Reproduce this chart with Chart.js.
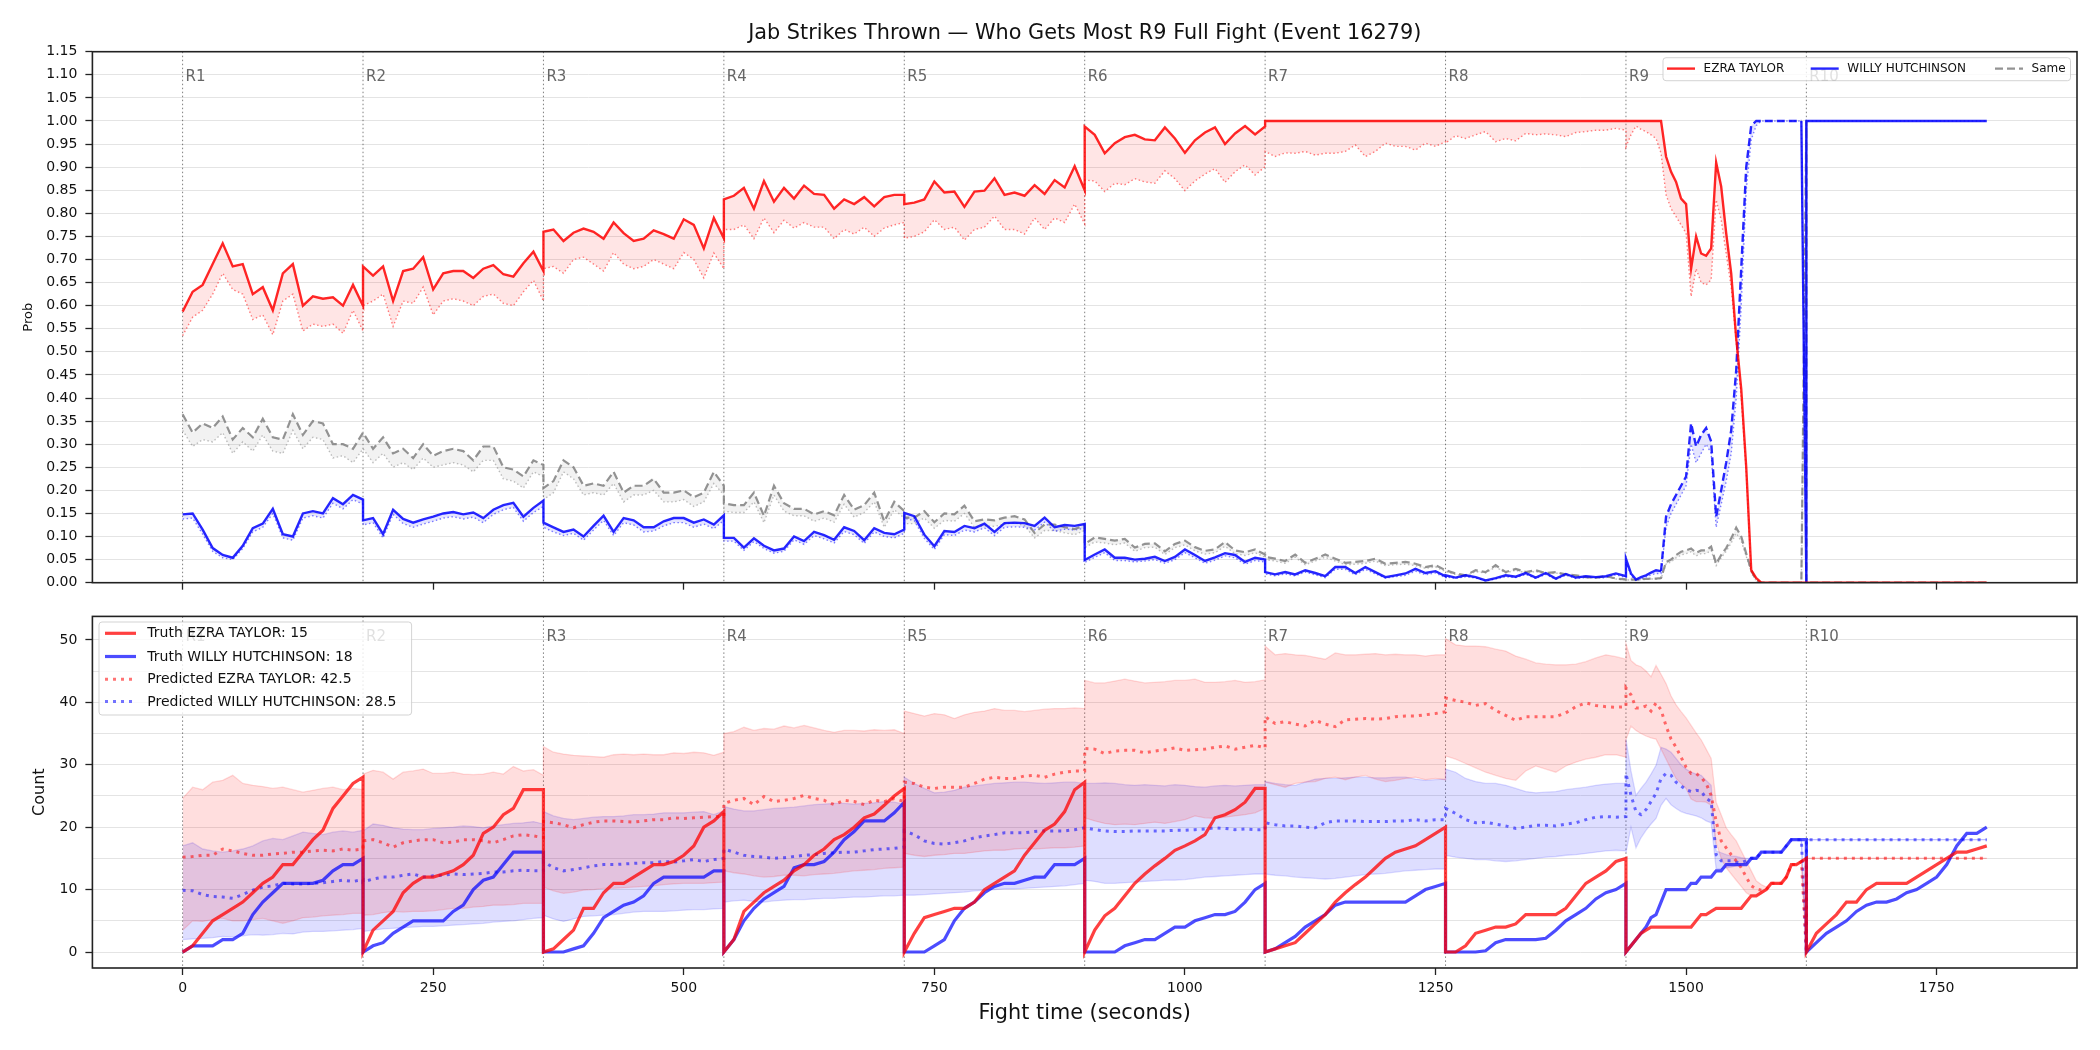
<!DOCTYPE html>
<html>
<head>
<meta charset="utf-8">
<script src="https://cdn.jsdelivr.net/npm/chart.js@4.4.1/dist/chart.umd.min.js"></script>
<style>
  html, body { margin: 0; padding: 0; background: #fff; }
  #wrap { position: relative; width: 2100px; height: 1050px; }
  #topChart { position: absolute; left: 0; top: 0; }
  #bottomChart { position: absolute; left: 0; top: 600px; }
</style>
</head>
<body>
<div id="wrap">
  <canvas id="topChart" width="2100" height="600"></canvas>
  <canvas id="bottomChart" width="2100" height="450"></canvas>
</div>
<script>
// rounds and sampling grid (R9 is sampled every 5 s, the rest every 10 s)
const roundStarts = [0, 180, 360, 540, 720, 900, 1080, 1260, 1440, 1620]
const roundLabels = ["R1", "R2", "R3", "R4", "R5", "R6", "R7", "R8", "R9", "R10"]
const coarseOffsets = [0, 10, 20, 30, 40, 50, 60, 70, 80, 90, 100, 110, 120, 130, 140, 150, 160, 170, 180]
const fineOffsets = [0, 5, 10, 15, 20, 25, 30, 35, 40, 45, 50, 55, 60, 65, 70, 75, 80, 85, 90, 95, 100, 105, 110, 115, 120, 125, 130, 135, 140, 145, 150, 155, 160, 165, 170, 175, 180]
const fineRound = 8
const xTicks = [0, 250, 500, 750, 1000, 1250, 1500, 1750]

// top panel: win probability per fighter (solid) and its lower line (dotted)
const ezraProb = [
  [.587,.63,.645,.69,.735,.685,.69,.625,.64,.59,.67,.69,.60,.62,.615,.618,.60,.645,.60],
  [.685,.665,.685,.61,.675,.68,.705,.635,.67,.675,.675,.66,.68,.688,.668,.663,.692,.717,.675],
  [.76,.765,.74,.758,.767,.76,.745,.78,.757,.74,.745,.763,.755,.745,.787,.775,.724,.79,.746],
  [.83,.838,.855,.81,.87,.825,.855,.832,.86,.842,.84,.81,.83,.82,.835,.815,.835,.84,.84],
  [.82,.823,.83,.869,.845,.847,.814,.847,.849,.876,.84,.845,.838,.861,.842,.872,.856,.902,.85],
  [.988,.97,.93,.952,.965,.97,.96,.958,.986,.962,.931,.958,.975,.986,.95,.973,.989,.971,.988],
  [1,1,1,1,1,1,1,1,1,1,1,1,1,1,1,1,1,1,1],
  [1,1,1,1,1,1,1,1,1,1,1,1,1,1,1,1,1,1,1],
  [1,1,1,1,1,1,1,1,.923,.89,.868,.832,.82,.68,.75,.713,.708,.724,.91,.858,.757,.67,.53,.42,.25,.027,.01,0,0,0,0,0,0,0,0,0,0],
  [0,0,0,0,0,0,0,0,0,0,0,0,0,0,0,0,0,0,0],
]
const ezraProbLow = [
  [.535,.575,.59,.625,.67,.635,.625,.57,.58,.537,.61,.625,.545,.56,.555,.56,.54,.59,.545],
  [.60,.61,.625,.555,.61,.605,.64,.58,.61,.615,.61,.60,.62,.625,.605,.60,.63,.655,.61],
  [.68,.685,.67,.70,.705,.69,.675,.715,.69,.68,.685,.70,.69,.68,.715,.70,.66,.714,.68],
  [.765,.765,.775,.745,.79,.758,.785,.768,.78,.77,.77,.745,.765,.755,.77,.75,.768,.775,.78],
  [.746,.75,.76,.786,.765,.77,.742,.765,.77,.794,.765,.765,.755,.79,.765,.79,.78,.82,.777],
  [.872,.87,.847,.865,.862,.875,.868,.865,.892,.875,.849,.87,.885,.897,.867,.89,.905,.883,.901],
  [.934,.923,.931,.93,.934,.926,.93,.93,.934,.948,.923,.934,.952,.945,.945,.937,.952,.945,.955],
  [.952,.968,.962,.97,.977,.955,.962,.957,.973,.97,.972,.97,.966,.975,.977,.98,.98,.984,.98],
  [.944,.97,.989,.982,.977,.97,.962,.93,.84,.81,.793,.775,.757,.62,.68,.65,.645,.656,.829,.786,.713,.64,.52,.40,.24,.02,.008,0,0,0,0,0,0,0,0,0,0],
  [0,0,0,0,0,0,0,0,0,0,0,0,0,0,0,0,0,0,0],
]
const willyProb = [
  [.148,.15,.115,.075,.06,.054,.08,.118,.128,.16,.105,.10,.15,.155,.15,.183,.17,.19,.18],
  [.135,.14,.105,.158,.138,.13,.137,.143,.15,.153,.148,.152,.14,.158,.168,.173,.143,.162,.178],
  [.13,.12,.11,.115,.10,.123,.145,.11,.14,.135,.12,.12,.133,.14,.14,.13,.137,.126,.146],
  [.097,.097,.076,.096,.08,.07,.074,.10,.09,.11,.103,.093,.12,.112,.092,.118,.108,.105,.115],
  [.151,.144,.104,.079,.112,.11,.123,.118,.128,.11,.129,.13,.129,.123,.141,.12,.125,.123,.127],
  [.049,.061,.072,.054,.054,.05,.052,.056,.047,.056,.072,.06,.047,.055,.064,.06,.045,.054,.05],
  [.023,.018,.023,.018,.027,.021,.014,.034,.034,.021,.034,.023,.012,.016,.02,.03,.021,.025,.014],
  [.016,.011,.016,.012,.005,.01,.016,.013,.021,.011,.021,.009,.019,.011,.014,.012,.014,.02,.014],
  [.052,.02,.007,.012,.016,.022,.027,.025,.143,.17,.19,.21,.23,.345,.295,.32,.335,.306,.143,.20,.26,.33,.46,.68,.90,.99,1,1,1,1,1,1,1,1,1,1,0],
  [1,1,1,1,1,1,1,1,1,1,1,1,1,1,1,1,1,1,1],
]
const willyProbLow = [
  [.138,.14,.105,.068,.054,.05,.074,.11,.12,.15,.097,.092,.14,.145,.14,.172,.16,.18,.17],
  [.125,.13,.097,.148,.128,.12,.127,.133,.14,.143,.138,.142,.13,.148,.158,.163,.133,.152,.165],
  [.12,.11,.102,.107,.092,.114,.135,.102,.13,.125,.11,.112,.123,.13,.13,.12,.127,.117,.135],
  [.09,.09,.07,.089,.074,.064,.068,.093,.083,.102,.095,.086,.111,.104,.085,.11,.10,.097,.107],
  [.14,.134,.096,.072,.104,.102,.114,.11,.119,.102,.12,.121,.12,.114,.131,.111,.116,.114,.118],
  [.044,.055,.065,.048,.048,.045,.047,.05,.042,.05,.065,.054,.042,.049,.058,.054,.04,.048,.045],
  [.019,.015,.019,.015,.023,.017,.011,.029,.029,.017,.029,.019,.01,.013,.016,.025,.017,.021,.011],
  [.013,.009,.013,.01,.004,.008,.013,.011,.018,.009,.018,.007,.016,.009,.011,.01,.011,.017,.011],
  [.045,.015,.004,.008,.012,.017,.02,.02,.12,.15,.17,.19,.21,.30,.26,.28,.30,.28,.12,.17,.22,.28,.40,.60,.85,.96,.99,1,1,1,1,1,1,1,1,1,0],
  [1,1,1,1,1,1,1,1,1,1,1,1,1,1,1,1,1,1,1],
]
const sameProb = [
  [.365,.325,.345,.335,.36,.31,.335,.315,.355,.315,.31,.365,.32,.35,.345,.30,.30,.29,.325],
  [.325,.29,.315,.28,.29,.27,.30,.275,.285,.29,.285,.265,.295,.295,.25,.245,.23,.265,.255],
  [.205,.22,.265,.25,.21,.215,.21,.24,.195,.21,.21,.225,.195,.195,.20,.185,.195,.24,.21],
  [.172,.168,.168,.195,.145,.21,.172,.16,.16,.148,.155,.146,.19,.158,.168,.195,.133,.175,.155],
  [.141,.141,.155,.131,.15,.148,.167,.133,.137,.135,.141,.144,.137,.108,.126,.126,.12,.116,.125],
  [.084,.098,.095,.091,.095,.076,.084,.085,.068,.084,.091,.077,.069,.072,.088,.07,.066,.072,.061],
  [.056,.052,.047,.061,.043,.052,.061,.052,.043,.045,.047,.052,.041,.043,.045,.041,.034,.038,.027],
  [.027,.02,.016,.027,.023,.038,.023,.03,.023,.027,.021,.023,.018,.016,.012,.011,.014,.009,.007],
  [.007,.007,.006,.008,.008,.009,.009,.01,.045,.05,.06,.067,.07,.074,.065,.07,.07,.078,.041,.06,.075,.096,.119,.10,.063,.027,.005,0,0,0,0,0,0,0,0,0,1],
  [0,0,0,0,0,0,0,0,0,0,0,0,0,0,0,0,0,0,0],
]
const sameProbLow = [
  [.33,.295,.31,.305,.325,.28,.305,.285,.32,.285,.28,.33,.29,.315,.31,.27,.275,.26,.29],
  [.29,.26,.28,.25,.26,.245,.27,.25,.255,.26,.255,.24,.265,.265,.225,.22,.205,.24,.23],
  [.18,.195,.24,.225,.19,.195,.19,.215,.175,.19,.19,.20,.175,.175,.18,.165,.175,.215,.19],
  [.155,.152,.152,.175,.13,.19,.155,.145,.145,.133,.14,.131,.17,.142,.152,.175,.12,.158,.14],
  [.128,.128,.14,.118,.135,.133,.15,.12,.123,.122,.127,.13,.123,.097,.113,.113,.108,.104,.113],
  [.076,.088,.086,.082,.086,.068,.076,.077,.061,.076,.082,.069,.062,.065,.079,.063,.059,.065,.055],
  [.05,.047,.042,.055,.039,.047,.055,.047,.039,.04,.042,.047,.037,.039,.04,.037,.031,.034,.024],
  [.024,.018,.014,.024,.021,.034,.021,.027,.021,.024,.019,.021,.016,.014,.011,.01,.013,.008,.006],
  [.006,.006,.005,.007,.007,.008,.008,.009,.04,.045,.054,.06,.063,.067,.058,.063,.063,.07,.037,.054,.068,.086,.107,.09,.057,.024,.004,0,0,0,0,0,0,0,0,0,.95],
  [0,0,0,0,0,0,0,0,0,0,0,0,0,0,0,0,0,0,0],
]

// bottom panel: cumulative counts per round
const ezraTruth = [
  [0,1,3,5,6,7,8,9.5,11,12,14,14,16,18,19.5,23,25,27,28],
  [0,3.5,5,6.5,9.5,11,12,12,12.5,13,14,15.5,19,20,22,23,26,26,26],
  [0,0.5,2,3.5,7,7,9.5,11,11,12,13,14,14,14.5,15.5,17,20,21,22.5],
  [0,2,6.5,8,9.5,10.5,11.5,13,14,15.5,16.5,18,18.8,20,21.5,22.1,23.5,25,26.2],
  [0,3,5.5,6,6.5,7,7,8,10,11,12,13,15.5,17.5,19.5,20.5,22.5,26,27.2],
  [0,3.5,5.8,7,9,11,12.5,13.8,15,16.3,17,17.8,18.8,21.5,22,22.8,24,26.2,26.2],
  [0,0.5,1,1.5,3,4.5,6,8,9.5,10.8,12,13.5,15,16,16.5,17,18,19,20],
  [0,0,1,3,3.5,4,4,4.5,6,6,6,6,7,9,11,12,13,14.5,15],
  [0,1,2,3,3.5,4,4,4,4,4,4,4,4,4,5,6,6,6.5,7,7,7,7,7,7,8,9,9,9.5,10,11,11,11,12,14,14,14.5,15],
  [0,3,4.5,6,8,8,10,11,11,11,11,12,13,14,15,16,16,16.5,17],
]
const willyTruth = [
  [0,1,1,1,2,2,3,6,8,9.5,11,11,11,11,11.5,13,14,14,15],
  [0,1,1.5,3,4,5,5,5,5,6.5,7.5,10,11.5,12,14,16,16,16,16],
  [0,0,0,0.5,1,3,5.5,6.5,7.5,8,9,11,12,12,12,12,12,13,13],
  [0,2,5,7,8.5,9.5,10.5,13.5,14,14,14.5,16,18,19.3,21,21,21,22.3,24],
  [0,0,0,1,2,5,7,8,9.5,10.5,11,11,11.5,12,12,14,14,14,15],
  [0,0,0,0,1,1.5,2,2,3,4,4,5,5.5,6,6,6.5,8,10,11],
  [0,0.5,1.5,2.5,4,5,6,7.5,8,8,8,8,8,8,8,9,10,10.5,11],
  [0,0,0,0,0.2,1.5,2,2,2,2,2.2,3.5,5,6,7,8.5,9.5,10,11],
  [0,1,2,3,4,5.5,6,8,10,10,10,10,10,11,11,12,12,12,13,13,14,14,14,14,14,15,15,16,16,16,16,16,17,18,18,18,18],
  [0,1.5,3,4,5,6.5,7.5,8,8,8.5,9.5,10,11,12,14,17,19,19,20],
]
const ezraPred = [
  [15.2,15.3,15.5,15.5,16.5,16.2,15.8,15.5,15.5,15.7,15.8,16,16,16.2,16.3,16.2,16.5,16.3,16.5],
  [17.8,18,17.5,16.8,17.5,17.8,18,18,17.5,17.6,18,18,17.8,17.5,18,18.6,18.8,18.6,18.3],
  [20.9,20.7,20.4,19.9,20.4,20.8,21,21,20.9,20.8,21,21.2,21.2,21.5,21.4,21.5,21.6,21.7,21.8],
  [23.8,24.3,24.6,23.6,24.9,24.1,24.3,24.6,25.1,24.6,24.3,23.6,24.3,24.1,23.6,24.3,24.1,24.6,24.1],
  [27.2,27,26.4,26.2,26.4,26.4,26.4,27,27.7,28,27.8,27.8,28.2,28.3,28,28.5,28.8,29,29],
  [32.6,32.5,31.8,32.2,32.3,32.3,31.9,32.2,32.4,32.7,32.3,32.4,32.5,32.8,33,32.5,32.8,33.1,32.7],
  [37.7,36.6,36.9,36.5,36.2,37.1,36.5,36.1,37.2,37.3,37.4,37.3,37.4,37.7,37.8,37.8,38,38.2,38.5],
  [40.7,40.3,40,39.5,39.8,38.7,37.9,37.1,37.7,37.7,37.7,37.7,38.3,39.3,39.9,39.5,39.3,39.2,39.3],
  [42.3,41.2,39.1,39.1,39.4,38.6,39.9,38.8,36.2,34.1,32.8,31.2,29.6,28.6,28.6,28,27,25.1,20.9,17.8,16.7,15.6,14.6,13.5,12,10.6,10.1,9.9,10,11,11,11,12,14,14,14.5,0],
  [15,15,15,15,15,15,15,15,15,15,15,15,15,15,15,15,15,15,15],
]
const willyPred = [
  [9.9,9.8,9.2,8.9,8.8,8.6,9.2,9.9,10.4,10.6,11,10.9,10.9,11,11.1,11.3,11.5,11.3,11.6],
  [11.2,11.7,12,12,12.3,12.5,12,12.2,12.3,12.5,12.4,12.5,12.6,12.8,12.8,13,13.1,13,13],
  [14.5,13.5,13,13.2,13.5,13.8,14,14,14.1,14.2,14.3,14.3,14.5,14.4,14.6,14.8,14.5,14.8,15],
  [16.5,16,15.5,15.3,15.2,15,15.1,15.3,15.5,15.6,15.8,15.9,16,16,16.2,16.4,16.5,16.6,16.8],
  [19.4,18.8,17.8,17.4,17.3,17.5,17.8,18.3,18.6,18.8,19.1,19.1,19.1,19.3,19.4,19.4,19.4,19.6,19.9],
  [19.9,19.6,19.4,19.3,19.3,19.4,19.4,19.4,19.4,19.5,19.5,19.6,19.7,19.9,19.8,19.6,19.7,19.6,19.6],
  [20.7,20.4,20.2,20.2,20,19.9,20.7,21,21,21,20.9,20.9,20.9,21,21,21.2,21,21.2,21.2],
  [23,22.2,21.2,20.7,20.8,20.5,20.2,19.8,20,20.3,20.3,20.2,20.5,20.7,21.2,21.6,21.7,21.6,21.7],
  [28.6,25.1,22.5,22,22.8,24.1,25.4,27.8,28.6,28.3,27.2,26.6,26,25.7,25.9,25.8,24.6,24.1,15.6,14.6,14.6,14.6,14.4,14.3,14.6,15,15,16,16,16,16,16,17,18,18,18,0],
  [18,18,18,18,18,18,18,18,18,18,18,18,18,18,18,18,18,18,18],
]
const ezraHigh = [
  [24.6,26.4,26,27.2,27.5,28.3,27,26.7,26.5,26.2,26.4,26,25.6,25.9,26.2,26.4,26,26.2,26],
  [28.5,29.1,28.8,27.7,28.8,29,29.3,28.6,28.6,28.8,28.5,28.4,28.5,28.8,28.5,29.7,29,29.2,28.3],
  [32.9,32,31.7,31.5,31.4,31.3,31.2,31.6,31.7,31.6,31.7,31.6,31.6,31.9,31.8,32,31.9,31.5,32],
  [35,35.3,36,35.5,35.8,35.7,36.2,35.9,36.3,35.9,35.5,35.2,35.5,35.5,35.4,35.6,35.5,35.6,35],
  [38.6,38.2,37.8,38.2,38,37.4,38,38.4,38.6,39,38.7,38.7,38.5,38.7,38.9,39,39,39.1,39],
  [43.5,43.1,43.1,43.4,43.7,43.4,43.1,43.2,43.3,43.5,43.5,43.7,43.2,43.2,43.3,43.5,43.2,43.3,43.6],
  [49,47.6,47.8,47.6,47.5,47.2,46.9,47.9,47.6,47.6,47.7,47.8,47.6,47.7,47.6,47.6,47.4,47.6,47.6],
  [50.2,49.2,49,49,48.9,48.5,48.2,47.4,46.9,46.3,46.1,46,46,46.1,46.5,47.1,47.6,47.3,46.9],
  [49.4,46.7,46,45.7,45,44.1,45.9,44.5,43,41,39.6,38.5,37.5,36.3,35.1,34,32.5,31,24,22,19.9,18.8,17.8,16.2,14.6,13,11.4,10.8,10.4,11,11,11,12,14,14,14.5,0],
  [15,15,15,15,15,15,15,15,15,15,15,15,15,15,15,15,15,15,15],
]
const ezraLowBand = [
  [3.5,5,4.9,5.2,5.4,5,5,5.2,5.4,5,4.6,5,5.5,5.6,5.8,5.9,6,6.2,6.2],
  [5.9,6,6.3,6.5,6.4,6.5,6.5,6.6,6.8,7,7,7.2,7.3,7.5,7.5,7.6,7.8,7.8,7.8],
  [10.4,9.8,9.4,9.6,9.9,10,10.2,10.2,10.3,10.4,10.5,10.6,10.8,10.9,11,11,11,11.1,11.2],
  [13,12.7,12.5,12.2,12,12.1,12.3,12.3,12.2,12.4,12.5,12.6,12.8,13,13.1,13.2,13.4,13.5,13.6],
  [15.8,15.5,15.3,15.5,15.6,15.8,15.8,16,16.2,16.3,16.3,16.5,16.6,16.5,16.6,16.7,16.7,16.8,17],
  [21.5,21,20.6,20.4,20.5,20.4,20.6,20.8,20.6,20.9,21.2,21.8,21.5,21.4,21.6,21.8,22,22.3,23],
  [27.2,26.8,26.4,27,27.2,27.3,27.8,28,27.6,28,28.3,27.7,27.3,27.5,27.8,28,27.6,27.8,27.6],
  [31.4,30.9,30.2,29.5,28.8,28.3,27.8,27.5,29,29.8,29.3,28.8,29.8,30.4,30.9,31.2,31.6,31.6,31.2],
  [34,36.2,35.5,35,34.6,34.3,34.1,32.5,30.9,29.3,27.8,27,26.2,24.5,24.1,24.1,24,23.5,17.5,15,13.5,12.5,11.5,10.5,9.5,9,9,9.3,10,11,11,11,12,14,14,14.5,0],
  [15,15,15,15,15,15,15,15,15,15,15,15,15,15,15,15,15,15,15],
]
const willyHigh = [
  [17,17.5,16.5,16.2,16,16.2,16.5,17,17.8,18.2,18,18.6,19.2,19,18.8,19.2,19.4,19.2,19.5],
  [19.4,20.5,20.3,19.9,19.7,19.6,19.6,19.8,19.9,20,20.2,20.1,19.9,20.2,20.4,20.6,20.7,20.9,20.5],
  [22.5,21.8,21.4,21.2,21.4,21.6,21.7,21.7,21.8,22,22,22.1,22.3,22.3,22.3,22.4,22.5,22,22.6],
  [23.3,22.9,22.6,22.6,22.8,23,23.1,23.2,23.4,23.6,23.7,23.8,23.8,23.7,23.8,23.9,24.1,24,23.7],
  [28,27,26.2,25.5,25.6,25.9,26.4,26.6,26.8,27,27.1,27.2,27.2,27.1,27,27.1,27.2,27.2,27],
  [27,27,27.1,27,26.8,26.7,26.8,26.7,26.6,26.8,26.7,26.5,26.4,26.6,26.7,26.6,26.7,26.8,26.8],
  [27.3,27,26.8,26.7,27.2,27.7,27.8,27.8,27.9,28,28,27.9,27.9,28,28,27.7,27.5,27.6,27.7],
  [29.3,28.8,27.8,27.3,27,27,26.7,26.2,25.7,25.5,25.6,25.7,26,26.2,26.4,26.7,26.9,27,27],
  [34.1,29,25.1,26.2,27.2,28.5,29.9,32.8,32.5,32,31,30,29.3,28.8,28.5,28.3,27.5,26.7,16.2,15.9,15.6,15.4,15.3,15.1,15,15,15,16,16,16,16,16,17,18,18,18,0],
  [18,18,18,18,18,18,18,18,18,18,18,18,18,18,18,18,18,18,18],
]
const willyLowBand = [
  [2,2.1,2.2,2.3,2.5,2.4,2.6,2.8,2.7,2.8,3,2.9,3.2,3.3,3.3,3.4,3.5,3.6,3.8],
  [3.3,3.5,3.7,3.8,3.9,4,4.1,4.1,4.2,4.3,4.4,4.5,4.6,4.8,4.9,5,5.2,5.4,5.5],
  [5.9,5.3,4.9,5.3,5.7,5.8,5.9,6,6.2,6.4,6.5,6.5,6.5,6.6,6.7,6.8,6.8,6.9,7],
  [8,8.2,8.3,8.1,8,8.2,8.3,8.4,8.4,8.5,8.6,8.6,8.7,8.8,8.8,8.9,9,9,9.1],
  [9.1,9.1,9.2,9.3,9.4,9.5,9.6,9.8,9.9,10,10.1,10.1,10.2,10.3,10.4,10.5,10.6,10.8,11],
  [11.5,11.3,11,11,11.1,11.2,11.3,11.4,11.5,11.5,11.6,11.8,12,12.1,12.2,12.3,12.4,12.5,12.5],
  [12.5,12.3,12.2,12,11.9,11.8,11.7,11.8,12,12.2,12.4,12.5,12.6,12.8,13,13.1,13.2,13.3,13.3],
  [15.5,15.2,15,14.8,14.8,14.6,14.5,14.6,14.8,15,15.2,15.3,15.5,15.6,15.8,16,16.2,16.3,16.2],
  [15.9,20,16.7,18.3,19.5,20.5,21.4,23.5,24.6,23.6,23,22.5,22.2,22,21.8,21.5,21,20.7,13.3,13.3,13.5,13.6,13.8,14,14.1,15,15,16,16,16,16,16,17,18,18,18,0],
  [18,18,18,18,18,18,18,18,18,18,18,18,18,18,18,18,18,18,18],
]

// time window where the WILLY probability line is drawn dashed
const willyDashFrom = 1475
const willyDashTo = 1615

Chart.defaults.font.family = "'DejaVu Sans', sans-serif"
Chart.defaults.font.size = 14
Chart.defaults.color = "#111"

const sampleTimes = roundStarts.map((start, r) => (r === fineRound ? fineOffsets : coarseOffsets).map((o) => start + o))

function toPoints(rounds) {
  const pts = []
  rounds.forEach((vals, r) => {
    vals.forEach((v, i) => {
      const x = sampleTimes[r][i]
      if (x !== undefined) pts.push({ x, y: v })
    })
  })
  return pts
}

const framePlugin = {
  id: "frame",
  afterDatasetsDraw(chart) {
    const { ctx, chartArea: a } = chart
    ctx.save()
    ctx.strokeStyle = "#222"
    ctx.lineWidth = 1.6
    ctx.strokeRect(a.left, a.top, a.right - a.left, a.bottom - a.top)
    ctx.restore()
  },
}

const roundPlugin = {
  id: "rounds",
  beforeDatasetsDraw(chart, args, opts) {
    const { ctx, chartArea: a, scales } = chart
    ctx.save()
    roundStarts.forEach((t, i) => {
      const px = scales.x.getPixelForValue(t)
      ctx.setLineDash([1.5, 2.5])
      ctx.strokeStyle = "rgba(0,0,0,0.5)"
      ctx.lineWidth = 1
      ctx.beginPath()
      ctx.moveTo(px, a.top)
      ctx.lineTo(px, a.bottom)
      ctx.stroke()
      ctx.setLineDash([])
      ctx.fillStyle = "#666"
      ctx.font = "15px 'DejaVu Sans'"
      ctx.textBaseline = "alphabetic"
      ctx.textAlign = "left"
      ctx.fillText(roundLabels[i], px + 3, a.top + opts.baseline)
    })
    ctx.restore()
  },
}

const legendPlugin = {
  id: "boxLegend",
  afterDraw(chart, args, opts) {
    const { ctx } = chart
    const b = opts.box
    ctx.save()
    ctx.beginPath()
    ctx.roundRect(b.x, b.y, b.w, b.h, 3)
    ctx.fillStyle = "rgba(255,255,255,0.8)"
    ctx.fill()
    ctx.strokeStyle = "rgba(200,200,200,0.8)"
    ctx.lineWidth = 1
    ctx.stroke()
    ctx.font = opts.fontSize + "px 'DejaVu Sans'"
    ctx.textBaseline = "middle"
    ctx.textAlign = "left"
    opts.items.forEach((it) => {
      const ds = chart.data.datasets[it.dataset]
      ctx.strokeStyle = ds.borderColor
      ctx.lineWidth = ds.borderWidth
      ctx.setLineDash(ds.borderDash || [])
      ctx.beginPath()
      ctx.moveTo(it.x, it.y)
      ctx.lineTo(it.x + opts.sample, it.y)
      ctx.stroke()
      ctx.setLineDash([])
      ctx.fillStyle = "#111"
      ctx.fillText(ds.label, it.x + opts.sample + opts.gap, it.y + 0.5)
    })
    ctx.restore()
  },
}

const titlePlugin = {
  id: "plotTitle",
  afterDraw(chart, args, opts) {
    const { ctx, chartArea: a } = chart
    ctx.save()
    ctx.font = "20.8px 'DejaVu Sans'"
    ctx.fillStyle = "#111"
    ctx.textAlign = "center"
    ctx.textBaseline = "alphabetic"
    ctx.fillText(opts.text, (a.left + a.right) / 2, opts.baseline)
    ctx.restore()
  },
}

const xScaleBase = {
  type: "linear",
  min: -90,
  max: 1890,
  afterBuildTicks: (s) => { s.ticks = xTicks.map((v) => ({ value: v })) },
  border: { display: false },
}

new Chart(document.getElementById("topChart"), {
  type: "line",
  data: {
    datasets: [
      { label: "EZRA TAYLOR", data: toPoints(ezraProb), borderColor: "rgba(255,0,0,0.85)", borderWidth: 2.4, fill: false },
      {
        label: "WILLY HUTCHINSON", data: toPoints(willyProb), borderColor: "rgba(0,0,255,0.85)", borderWidth: 2.4, fill: false,
        segment: { borderDash: (c) => (c.p0.parsed.x >= willyDashFrom && c.p1.parsed.x <= willyDashTo ? [8, 4] : undefined) },
      },
      { label: "Same", data: toPoints(sameProb), borderColor: "rgba(128,128,128,0.85)", borderWidth: 2.2, borderDash: [8, 4], fill: false },
      { label: "EZRA TAYLOR low", data: toPoints(ezraProbLow), borderColor: "rgba(255,0,0,0.5)", borderWidth: 1.4, borderDash: [1.5, 2.5], fill: 0, backgroundColor: "rgba(255,0,0,0.1)" },
      { label: "WILLY HUTCHINSON low", data: toPoints(willyProbLow), borderColor: "rgba(0,0,255,0.5)", borderWidth: 1.4, borderDash: [1.5, 2.5], fill: 1, backgroundColor: "rgba(0,0,255,0.1)" },
      { label: "Same low", data: toPoints(sameProbLow), borderColor: "rgba(128,128,128,0.5)", borderWidth: 1.4, borderDash: [1.5, 2.5], fill: 2, backgroundColor: "rgba(128,128,128,0.1)" },
    ],
  },
  options: {
    responsive: false,
    animation: false,
    devicePixelRatio: 1,
    layout: { padding: { top: 51.7, right: 23, left: 0, bottom: 0 } },
    elements: { point: { radius: 0 }, line: { tension: 0 } },
    plugins: {
      legend: { display: false },
      tooltip: { enabled: false },
      rounds: { baseline: 29.3 },
      plotTitle: { text: "Jab Strikes Thrown \u2014 Who Gets Most R9 Full Fight (Event 16279)", baseline: 39.3 },
      boxLegend: {
        box: { x: 1663, y: 57.7, w: 407.5, h: 23 },
        fontSize: 12,
        sample: 28,
        gap: 8.6,
        items: [
          { dataset: 0, x: 1667, y: 68.6 },
          { dataset: 1, x: 1810.7, y: 68.6 },
          { dataset: 2, x: 1995, y: 68.6 },
        ],
      },
    },
    scales: {
      x: {
        ...xScaleBase,
        ticks: { display: false },
        grid: { drawOnChartArea: false, drawTicks: true, tickLength: 7, tickColor: "#222", tickWidth: 1.3 },
        afterFit: (s) => { s.height = 17.3 },
      },
      y: {
        min: 0,
        max: 1.15,
        ticks: { stepSize: 0.05, autoSkip: false, padding: 8, callback: (v) => Number(v).toFixed(2) },
        grid: { color: "#e4e4e4", lineWidth: 1, tickColor: "#222", tickLength: 7, tickWidth: 1.3 },
        border: { display: false },
        title: { display: true, text: "Prob", font: { size: 13 }, padding: { top: 20.8, bottom: 0 } },
        afterFit: (s) => { s.width = 92.4 },
      },
    },
  },
  plugins: [roundPlugin, framePlugin, titlePlugin, legendPlugin],
})

new Chart(document.getElementById("bottomChart"), {
  type: "line",
  data: {
    datasets: [
      { label: "Truth EZRA TAYLOR: 15", data: toPoints(ezraTruth), borderColor: "rgba(255,0,0,0.75)", borderWidth: 3.2, fill: false },
      { label: "Truth WILLY HUTCHINSON: 18", data: toPoints(willyTruth), borderColor: "rgba(0,0,255,0.7)", borderWidth: 3.2, fill: false },
      { label: "Predicted EZRA TAYLOR: 42.5", data: toPoints(ezraPred), borderColor: "rgba(255,0,0,0.55)", borderWidth: 3, borderDash: [3, 5], fill: false },
      { label: "Predicted WILLY HUTCHINSON: 28.5", data: toPoints(willyPred), borderColor: "rgba(0,0,255,0.55)", borderWidth: 3, borderDash: [3, 5], fill: false },
      { label: "EZRA TAYLOR high", data: toPoints(ezraHigh), borderColor: "rgba(255,0,0,0.14)", borderWidth: 1.3, fill: 5, backgroundColor: "rgba(255,0,0,0.13)" },
      { label: "EZRA TAYLOR low", data: toPoints(ezraLowBand), borderColor: "rgba(255,0,0,0.14)", borderWidth: 1.3, fill: false },
      { label: "WILLY HUTCHINSON high", data: toPoints(willyHigh), borderColor: "rgba(0,0,255,0.14)", borderWidth: 1.3, fill: 7, backgroundColor: "rgba(0,0,255,0.13)" },
      { label: "WILLY HUTCHINSON low", data: toPoints(willyLowBand), borderColor: "rgba(0,0,255,0.14)", borderWidth: 1.3, fill: false },
    ],
  },
  options: {
    responsive: false,
    animation: false,
    devicePixelRatio: 1,
    layout: { padding: { top: 13.5, right: 23, left: 0, bottom: 0 } },
    elements: { point: { radius: 0 }, line: { tension: 0 } },
    plugins: {
      legend: { display: false },
      tooltip: { enabled: false },
      rounds: { baseline: 25 },
      boxLegend: {
        box: { x: 99, y: 22, w: 312.6, h: 93 },
        fontSize: 14,
        sample: 31,
        gap: 11.3,
        items: [
          { dataset: 0, x: 105, y: 33.3 },
          { dataset: 1, x: 105, y: 56.5 },
          { dataset: 2, x: 105, y: 79.3 },
          { dataset: 3, x: 105, y: 101.5 },
        ],
      },
    },
    scales: {
      x: {
        ...xScaleBase,
        ticks: { padding: 4.6, autoSkip: false, callback: (v) => String(v) },
        grid: { drawOnChartArea: false, drawTicks: true, tickLength: 7, tickColor: "#222", tickWidth: 1.3 },
        title: { display: true, text: "Fight time (seconds)", font: { size: 20.8 }, padding: { top: 0, bottom: 23.5 } },
        afterFit: (s) => { s.height = 82 },
      },
      y: {
        min: -2.56,
        max: 53.76,
        ticks: { stepSize: 5, includeBounds: false, autoSkip: false, padding: 8, callback: (v) => (v % 10 === 0 ? String(v) : "") },
        grid: {
          color: "#e4e4e4",
          lineWidth: 1,
          tickLength: 7,
          tickWidth: 1.3,
          tickColor: (c) => (c.tick && c.tick.value % 10 === 0 ? "#222" : "rgba(0,0,0,0)"),
        },
        border: { display: false },
        title: { display: true, text: "Count", font: { size: 16 }, padding: { top: 30.4, bottom: 0 } },
        afterFit: (s) => { s.width = 92.4 },
      },
    },
  },
  plugins: [roundPlugin, framePlugin, legendPlugin],
})
</script>
</body>
</html>
